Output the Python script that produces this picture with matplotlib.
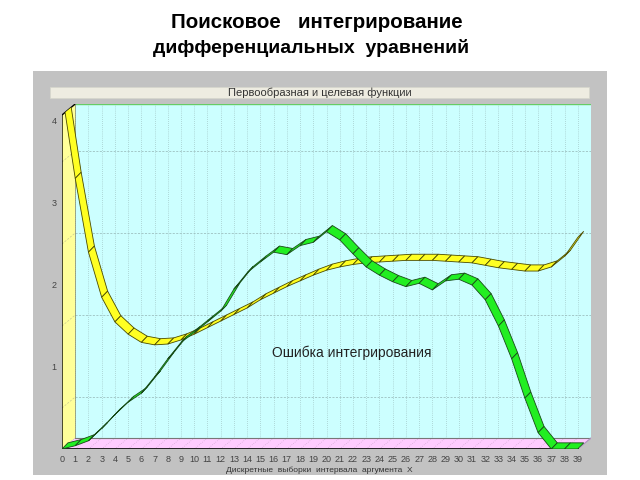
import matplotlib.pyplot as plt
from matplotlib.patches import Polygon, Rectangle

# samples of the argument X
x = list(range(40))

# target (yellow) and found antiderivative (green) values
target = [4.35, 3.3, 2.4, 1.85, 1.55, 1.4, 1.3, 1.27, 1.28, 1.33,
          1.4, 1.48, 1.56, 1.64, 1.72, 1.82, 1.9, 1.98, 2.05, 2.12,
          2.18, 2.22, 2.25, 2.27, 2.28, 2.29, 2.3, 2.3, 2.3, 2.29,
          2.28, 2.27, 2.24, 2.21, 2.19, 2.17, 2.17, 2.22, 2.35, 2.58]
found = [0.0, 0.04, 0.1, 0.25, 0.42, 0.57, 0.68, 0.88, 1.1, 1.3,
         1.42, 1.55, 1.68, 1.95, 2.15, 2.28, 2.4, 2.37, 2.48, 2.52,
         2.65, 2.55, 2.38, 2.22, 2.12, 2.04, 1.98, 2.02, 1.94, 2.05,
         2.07, 2.0, 1.82, 1.5, 1.1, 0.62, 0.2, 0.0, 0.0, 0.0]

yticks = [1, 2, 3, 4]

W, H = 640, 480
def fx(p):
    return p / W
def fy(p):
    return 1 - p / H

fig = plt.figure(figsize=(6.4, 4.8), dpi=100)
fig.patch.set_facecolor('white')

# slide title
fig.text(fx(317), fy(22), 'Поисковое   интегрирование', ha='center', va='center',
         fontsize=14.8, fontweight='bold', family='Liberation Sans', color='black')
fig.text(fx(311), fy(48), 'дифференциальных  уравнений', ha='center', va='center',
         fontsize=14, fontweight='bold', family='Liberation Sans', color='black')

# gray chart panel and its caption bar
fig.patches.append(Rectangle((fx(33), fy(475)), (607 - 33) / W, (475 - 71) / H,
                             transform=fig.transFigure, facecolor='#c2c2c2',
                             edgecolor='none', zorder=-2))
fig.patches.append(Rectangle((fx(50), fy(98)), (589 - 50) / W, 11 / H,
                             transform=fig.transFigure, facecolor='#eeece1',
                             edgecolor='#d6d6cc', lw=0.5, zorder=-1))
fig.text(fx(320), fy(93), 'Первообразная и целевая функции', ha='center', va='center',
         fontsize=8, family='Liberation Sans', color='#333333')

ax = fig.add_axes([fx(62), fy(449), (591 - 62) / W, (449 - 104) / H])
ax.set_zorder(1)
ytop = 4.207
ddx, ddy = 1.0, 0.134      # wall depth
rdx, rdy = 0.45, 0.075     # ribbon depth
ax.set_xlim(0, 40)
ax.set_ylim(0, ytop)
ax.set_facecolor('none')
for s in ax.spines.values():
    s.set_visible(False)
ax.set_xticks(x)
ax.set_xticklabels([str(v) for v in x], fontsize=6.5, color='#444444', family='Liberation Sans')
ax.set_yticks(yticks)
ax.set_yticklabels([str(v) for v in yticks], fontsize=6.5, color='#444444', family='Liberation Sans')
ax.tick_params(length=0)
ax.tick_params(axis='x', pad=4)
ax.tick_params(axis='y', pad=4)
ax.set_xlabel('Дискретные  выборки  интервала  аргумента  X', fontsize=6,
              color='#333333', family='Liberation Sans')
ax.xaxis.set_label_coords((319 - 62) / 529, -0.05)

# back wall, left wall, floor
ax.add_patch(Polygon([(ddx, ddy), (40, ddy), (40, ytop), (ddx, ytop)],
                     facecolor='#ccffff', edgecolor='none', zorder=1))
ax.add_patch(Polygon([(0, 0), (0, ytop - ddy), (ddx, ytop), (ddx, ddy)],
                     facecolor='#ffff99', edgecolor='none', zorder=1))
ax.add_patch(Polygon([(0, 0), (39, 0), (40, ddy), (ddx, ddy)],
                     facecolor='#ffccff', edgecolor='none', zorder=1))

# grid
for k in range(1, 41):
    ax.plot([k, k], [ddy, ytop], color='#93b4b4', lw=0.5, ls=(0, (1, 2)), zorder=2)
for k in range(0, 40):
    ax.plot([k, k + ddx], [0, ddy], color='#c9a3c9', lw=0.5, ls=(0, (1, 2)), zorder=2)
for v in [0.5, 1.5, 2.5, 3.5]:
    ax.plot([ddx, 40], [v + ddy, v + ddy], color='#93b4b4', lw=0.5, ls=(0, (3, 2)), zorder=2)
    ax.plot([0, ddx], [v, v + ddy], color='#c8c890', lw=0.5, ls=(0, (3, 2)), zorder=2)

# wall edges
ax.plot([ddx, 40], [ytop, ytop], color='#66cc66', lw=1.0, zorder=3)
ax.plot([0, 0, ddx], [0, ytop - ddy, ytop], color='black', lw=1.0, zorder=3)
ax.plot([ddx, ddx], [ddy, ytop], color='#888866', lw=0.5, zorder=3)
ax.plot([ddx, 40], [ddy, ddy], color='#777777', lw=0.8, zorder=3)
ax.plot([39, 40], [0, ddy], color='#b090c0', lw=0.8, zorder=3)
ax.plot([0, 39], [0, 0], color='black', lw=1.2, zorder=3)

clip = Polygon([(0, 0), (0, ytop - ddy), (ddx, ytop), (40, ytop), (40, ddy), (39, 0)],
               facecolor='none', edgecolor='none')
ax.add_patch(clip)


def ribbon(xs, ys, face, edge, z):
    for i in range(len(xs) - 1):
        quad = [(xs[i], ys[i]), (xs[i + 1], ys[i + 1]),
                (xs[i + 1] + rdx, ys[i + 1] + rdy), (xs[i] + rdx, ys[i] + rdy)]
        p = Polygon(quad, closed=True, facecolor=face, edgecolor=edge,
                    lw=0.6, zorder=z)
        ax.add_patch(p)
        p.set_clip_path(clip)


ribbon(x, target, '#ffff22', '#4a4a00', 4)
ribbon(x, found, '#22ee22', '#184a18', 5)

ax.text(21.9, (449 - 353) / 82, 'Ошибка интегрирования', ha='center', va='center',
        fontsize=10, family='Liberation Sans', color='#222222', zorder=6)

fig.savefig('out.png', dpi=100)
